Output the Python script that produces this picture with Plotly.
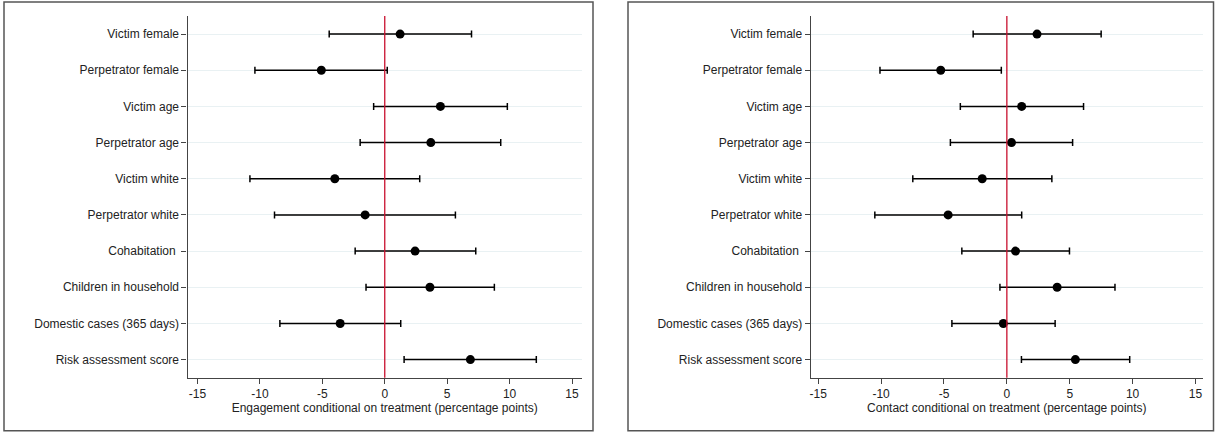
import plotly.graph_objects as go

categories = ["Victim female", "Perpetrator female", "Victim age", "Perpetrator age",
              "Victim white", "Perpetrator white", "Cohabitation\u00a0",
              "Children in household", "Domestic cases (365 days)", "Risk assessment score"]

eng_est = [1.23, -5.08, 4.46, 3.69, -4.0, -1.57, 2.43, 3.62, -3.57, 6.86]
eng_lo = [-4.45, -10.4, -0.89, -1.97, -10.8, -8.83, -2.37, -1.5, -8.4, 1.55]
eng_hi = [6.95, 0.2, 9.82, 9.29, 2.8, 5.66, 7.29, 8.78, 1.28, 12.14]

con_est = [2.4, -5.26, 1.18, 0.37, -1.96, -4.67, 0.69, 4.0, -0.28, 5.45]
con_lo = [-2.68, -10.09, -3.7, -4.49, -7.48, -10.5, -3.58, -0.55, -4.37, 1.16]
con_hi = [7.5, -0.44, 6.1, 5.23, 3.58, 1.18, 4.98, 8.6, 3.84, 9.77]

x_ticks = [-15, -10, -5, 0, 5, 10, 15]
x_tick_labels = ["-15", "-10", "-5", "0", "5", "10", "15"]
x_titles = ["Engagement conditional on treatment (percentage points)",
            "Contact conditional on treatment (percentage points)"]

W, H = 1215, 433
FONT = "Liberation Sans, Arial, sans-serif"
FS = 12

fig = go.Figure()

panels = [
    (eng_est, eng_lo, eng_hi, "x", "y"),
    (con_est, con_lo, con_hi, "x2", "y2"),
]
for est, lo, hi, xa, ya in panels:
    fig.add_trace(go.Scatter(
        x=est, y=categories, mode="markers", xaxis=xa, yaxis=ya,
        marker=dict(color="black", size=9),
        error_x=dict(type="data", symmetric=False,
                     array=[h - e for h, e in zip(hi, est)],
                     arrayminus=[e - l for e, l in zip(est, lo)],
                     color="black", thickness=1.5, width=3.5),
        showlegend=False, hoverinfo="skip",
    ))

def px_x(v):
    return v / W

def px_y(v):
    return (H - v) / H

y_dom = [px_y(377.7), px_y(16)]
x_doms = [[px_x(187.5), px_x(582)], [px_x(810.7), px_x(1203)]]
x_ranges = [[-15.8, 15.8], [-15.6, 15.6]]

axis_common_x = dict(
    tickmode="array", tickvals=x_ticks, ticktext=x_tick_labels,
    ticks="outside", ticklen=5, tickwidth=1,
    tickcolor="#444444", showline=True, linecolor="#444444", linewidth=1.2,
    showgrid=False, zeroline=False, automargin=False,
    tickfont=dict(family=FONT, size=FS, color="#222222"),
)
axis_common_y = dict(
    type="category", categoryorder="array", categoryarray=categories,
    range=[9.5, -0.5], ticks="outside", ticklen=5, tickwidth=1,
    tickcolor="#444444", showline=True, linecolor="#444444", linewidth=1.2,
    showgrid=True, gridcolor="#e9f1f3", gridwidth=1, zeroline=False,
    automargin=False, tickfont=dict(family=FONT, size=FS, color="#222222"),
)

fig.update_layout(
    width=W, height=H, margin=dict(l=0, r=0, t=0, b=0),
    paper_bgcolor="white", plot_bgcolor="white",
    xaxis=dict(domain=x_doms[0], range=x_ranges[0], anchor="y",
               title=dict(text=x_titles[0], standoff=0,
                          font=dict(family=FONT, size=FS, color="#222222")),
               **axis_common_x),
    yaxis=dict(domain=y_dom, anchor="x", **axis_common_y),
    xaxis2=dict(domain=x_doms[1], range=x_ranges[1], anchor="y2",
                title=dict(text=x_titles[1], standoff=0,
                           font=dict(family=FONT, size=FS, color="#222222")),
                **axis_common_x),
    yaxis2=dict(domain=y_dom, anchor="x2", **axis_common_y),
)

# Zero reference lines
for xa, ya in [("x", "y"), ("x2", "y2")]:
    fig.add_shape(type="line", xref=xa, yref=ya + " domain", x0=0, x1=0, y0=0, y1=1,
                  line=dict(color="#c8102e", width=1.3), layer="above")

# Panel boxes
for x0, x1 in [(4, 593), (628, 1213.5)]:
    fig.add_shape(type="rect", xref="paper", yref="paper",
                  x0=px_x(x0), x1=px_x(x1), y0=px_y(430.7), y1=px_y(2),
                  line=dict(color="#555555", width=1.5), fillcolor="rgba(0,0,0,0)")

fig.write_html("out.html", config={"displayModeBar": False},
               post_script="document.body.style.margin='0';document.body.style.overflow='hidden';")
